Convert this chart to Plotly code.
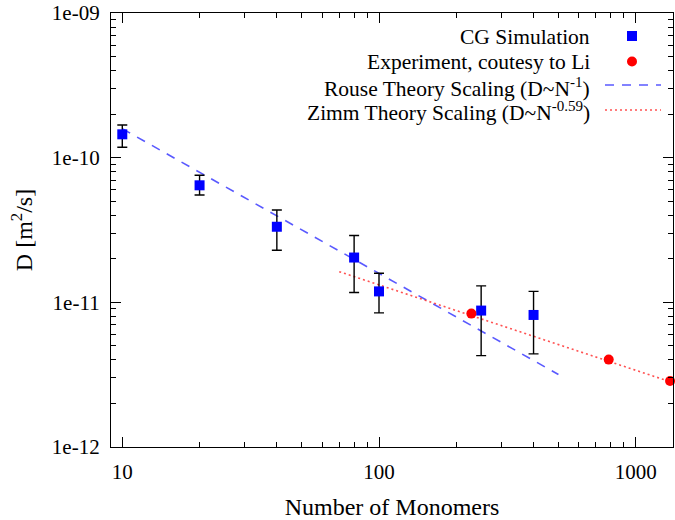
import plotly.graph_objects as go

# ---- data ----
cg_N = [10, 20, 40, 80, 100, 250, 400]
cg_D = [1.45e-10, 6.44e-11, 3.33e-11, 2.04e-11, 1.19e-11, 8.77e-12, 8.18e-12]
cg_D_hi = [1.68e-10, 7.55e-11, 4.35e-11, 2.90e-11, 1.59e-11, 1.30e-11, 1.19e-11]
cg_D_lo = [1.18e-10, 5.52e-11, 2.29e-11, 1.17e-11, 8.45e-12, 4.28e-12, 4.40e-12]

exp_N = [229, 785, 1361]
exp_D = [8.36e-12, 4.02e-12, 2.86e-12]

rouse_N = [10, 500]
rouse_D = [1.585e-10, 3.17e-12]

zimm_N = [70, 1500]
zimm_D = [1.63e-11, 2.67e-12]

x_tick_vals = [10, 100, 1000]
x_tick_text = ["10", "100", "1000"]
y_tick_vals = [1e-9, 1e-10, 1e-11, 1e-12]
y_tick_text = ["1e-09", "1e-10", "1e-11", "1e-12"]

legend_labels = ["CG Simulation", "Experiment, coutesy to Li",
                 "Rouse Theory Scaling (D~N<sup>-1</sup>)",
                 "Zimm Theory Scaling (D~N<sup>-0.59</sup>)"]

FONT = "Liberation Serif"
FS_TICK = 21
FS_LEG = 21.5
FS_TITLE = 24

x_minor = [m * d for d in (1, 10, 100, 1000) for m in range(2, 10)]
y_minor = [m * d for d in (1e-12, 1e-11, 1e-10) for m in range(2, 10)]

err_plus = [h - v for h, v in zip(cg_D_hi, cg_D)]
err_minus = [v - l for v, l in zip(cg_D, cg_D_lo)]

fig = go.Figure()
fig.add_trace(go.Scatter(x=rouse_N, y=rouse_D, mode="lines",
                         line=dict(color="rgba(60,60,255,0.85)", width=1.6, dash="9px,8px"),
                         showlegend=False))
fig.add_trace(go.Scatter(x=zimm_N, y=zimm_D, mode="lines",
                         line=dict(color="rgba(255,50,50,0.85)", width=1.6, dash="2px,3px"),
                         showlegend=False))
fig.add_trace(go.Scatter(x=cg_N, y=cg_D, mode="markers",
                         marker=dict(symbol="square", size=10, color="#0000ff"),
                         error_y=dict(type="data", symmetric=False, array=err_plus,
                                      arrayminus=err_minus, color="black",
                                      thickness=1.4, width=5),
                         showlegend=False))
fig.add_trace(go.Scatter(x=exp_N, y=exp_D, mode="markers",
                         marker=dict(symbol="circle", size=10, color="#ff0000"),
                         showlegend=False, cliponaxis=False))

# ---- manual legend (text left, sample right) ----
L, R, T, B = 111, 673, 13, 447
def px(x):
    return (x - L) / (R - L)
def py(y):
    return (B - y) / (B - T)

rows_y = [37, 62, 87, 112]
text_x = px(592)
for lab, yy in zip(legend_labels, rows_y):
    fig.add_annotation(x=text_x, y=py(yy), xref="paper", yref="paper",
                       text=lab, showarrow=False, xanchor="right", yanchor="middle",
                       font=dict(family=FONT, size=FS_LEG, color="black"))
sym_x = px(632)
fig.add_shape(type="rect", xref="paper", yref="paper", xsizemode="pixel", ysizemode="pixel",
              xanchor=sym_x, yanchor=py(36), x0=-5, x1=5, y0=-5, y1=5,
              fillcolor="#0000ff", line=dict(width=0))
fig.add_shape(type="circle", xref="paper", yref="paper", xsizemode="pixel", ysizemode="pixel",
              xanchor=sym_x, yanchor=py(61.5), x0=-5, x1=5, y0=-5, y1=5,
              fillcolor="#ff0000", line=dict(width=0))
fig.add_shape(type="line", xref="paper", yref="paper", x0=px(605), x1=px(661),
              y0=py(85), y1=py(85),
              line=dict(color="rgba(60,60,255,0.85)", width=1.6, dash="9px,8px"))
fig.add_shape(type="line", xref="paper", yref="paper", x0=px(605), x1=px(661),
              y0=py(110), y1=py(110),
              line=dict(color="rgba(255,50,50,0.85)", width=1.6, dash="2px,3px"))

axis_common = dict(showline=True, linecolor="black", linewidth=1.3, mirror="ticks",
                   ticks="inside", ticklen=10, tickwidth=1.3, tickcolor="black",
                   showgrid=False, zeroline=False,
                   tickfont=dict(family=FONT, size=FS_TICK, color="black"))

fig.update_xaxes(type="log", range=[0.956, 3.1453],
                 tickmode="array", tickvals=x_tick_vals, ticktext=x_tick_text,
                 minor=dict(tickmode="array", tickvals=x_minor, ticks="inside",
                            ticklen=5, tickwidth=1.3, tickcolor="black", showgrid=False),
                 title=dict(text="Number of Monomers",
                            font=dict(family=FONT, size=FS_TITLE, color="black"),
                            standoff=16),
                 ticklabelstandoff=6,
                 **axis_common)
fig.update_yaxes(type="log", range=[-12, -9],
                 tickmode="array", tickvals=y_tick_vals, ticktext=y_tick_text,
                 minor=dict(tickmode="array", tickvals=y_minor, ticks="inside",
                            ticklen=5, tickwidth=1.3, tickcolor="black", showgrid=False),
                 title=dict(text="D [m<sup>2</sup>/s]",
                            font=dict(family=FONT, size=FS_TITLE, color="black"),
                            standoff=12),
                 ticklabelstandoff=6,
                 **axis_common)

fig.update_layout(width=675, height=520,
                  margin=dict(l=L, r=675 - R, t=T, b=520 - B, autoexpand=False),
                  paper_bgcolor="white", plot_bgcolor="white",
                  font=dict(family=FONT, size=FS_TICK, color="black"),
                  showlegend=False)

fig.write_html("out.html")
